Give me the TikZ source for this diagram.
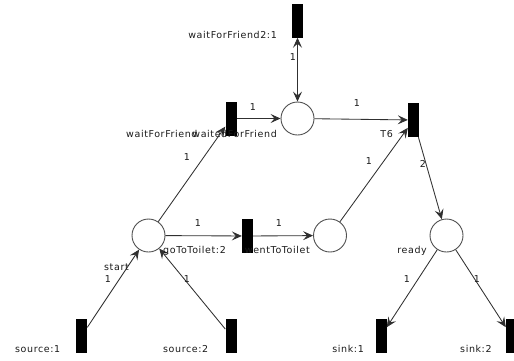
\documentclass[tikz,border=0pt]{standalone}
\usepackage{fontspec}
\setmainfont{DejaVu Sans}[LetterSpace=6.4]
\usetikzlibrary{arrows.meta}
\definecolor{arcgray}{HTML}{303030}
\definecolor{placegray}{HTML}{505050}
\definecolor{textgray}{HTML}{1A1A1A}
\begin{document}
\begin{tikzpicture}[x=1pt,y=-1pt,
  place/.style={circle,draw=placegray,line width=0.9pt,minimum size=33pt,inner sep=0pt,fill=white},
  trans/.style={rectangle,fill=black,minimum width=11pt,minimum height=34pt,inner sep=0pt},
  arc/.style={draw=arcgray,line width=0.85pt,-{Stealth[length=10pt,width=9pt,inset=4pt]}},
  biarc/.style={draw=arcgray,line width=0.85pt,{Stealth[length=10pt,width=9pt,inset=4pt]}-{Stealth[length=10pt,width=9pt,inset=4pt]}},
  lbl/.style={font=\fontsize{9.5}{11}\selectfont,text=textgray,inner sep=0pt}]
\useasboundingbox (0,0) rectangle (514,360);
% transitions
\node[trans] (wff2) at (297.5,20.5) {};
\node[trans] (wff) at (231,118.5) {};
\node[trans] (t6) at (413.5,120) {};
\node[trans] (gtt) at (247.5,236) {};
\node[trans] (src1) at (81.5,336) {};
\node[trans] (src2) at (231,336) {};
\node[trans] (snk1) at (381,336) {};
\node[trans] (snk2) at (511.5,336) {};
% places
\node[place] (wedf) at (297.5,118.5) {};
\node[place] (ready) at (446.5,235.5) {};
\node[place] (wtt) at (330,235.5) {};
\node[place] (start) at (148.5,235.5) {};
% arcs
\draw[arc] (wff) -- (wedf);
\draw[biarc] (wff2) -- (wedf);
\draw[arc] (wedf) -- (t6);
\draw[arc] (wtt) -- (t6);
\draw[arc] (t6) -- (ready);
\draw[arc] (start) -- (wff);
\draw[arc] (start) -- (gtt);
\draw[arc] (gtt) -- (wtt);
\draw[arc] (src1) -- (start);
\draw[arc] (src2) -- (start);
\draw[arc] (ready) -- (snk1);
\draw[arc] (ready) -- (snk2);
% node labels
\node[lbl,anchor=base east] (Lwff2) at (277,38) {waitForFriend2:1};
\node[lbl,anchor=base west] (Lwff) at (126,137) {waitForFriend};
\node[lbl,anchor=base east] (Lwedf) at (277,137) {waitedForFriend};
\node[lbl,anchor=base east] (Lt6) at (393,137) {T6};
\node[lbl,anchor=base east] (Lready) at (427,253) {ready};
\node[lbl,anchor=base west] (Lgtt) at (163,253) {goToToilet:2};
\node[lbl,anchor=base east] (Lwtt) at (310,253) {wentToToilet};
\node[lbl,anchor=base west] (Lstart) at (104,270) {start};
\node[lbl,anchor=base west] (Lsrc1) at (15,352) {source:1};
\node[lbl,anchor=base west] (Lsrc2) at (163,352) {source:2};
\node[lbl,anchor=base east] (Lsnk1) at (364,352) {sink:1};
\node[lbl,anchor=base west] (Lsnk2) at (460,352) {sink:2};
% arc weights
\node[lbl] (w1) at (293,57) {1};
\node[lbl] (w2) at (253,107) {1};
\node[lbl] (w3) at (357,103) {1};
\node[lbl] (w4) at (369,161) {1};
\node[lbl] (w5) at (423,164) {2};
\node[lbl] (w6) at (198,223) {1};
\node[lbl] (w7) at (279,223) {1};
\node[lbl] (w8) at (187,157) {1};
\node[lbl] (w9) at (108,279) {1};
\node[lbl] (w10) at (187,279) {1};
\node[lbl] (w11) at (407,279) {1};
\node[lbl] (w12) at (477,279) {1};
\end{tikzpicture}
\end{document}
